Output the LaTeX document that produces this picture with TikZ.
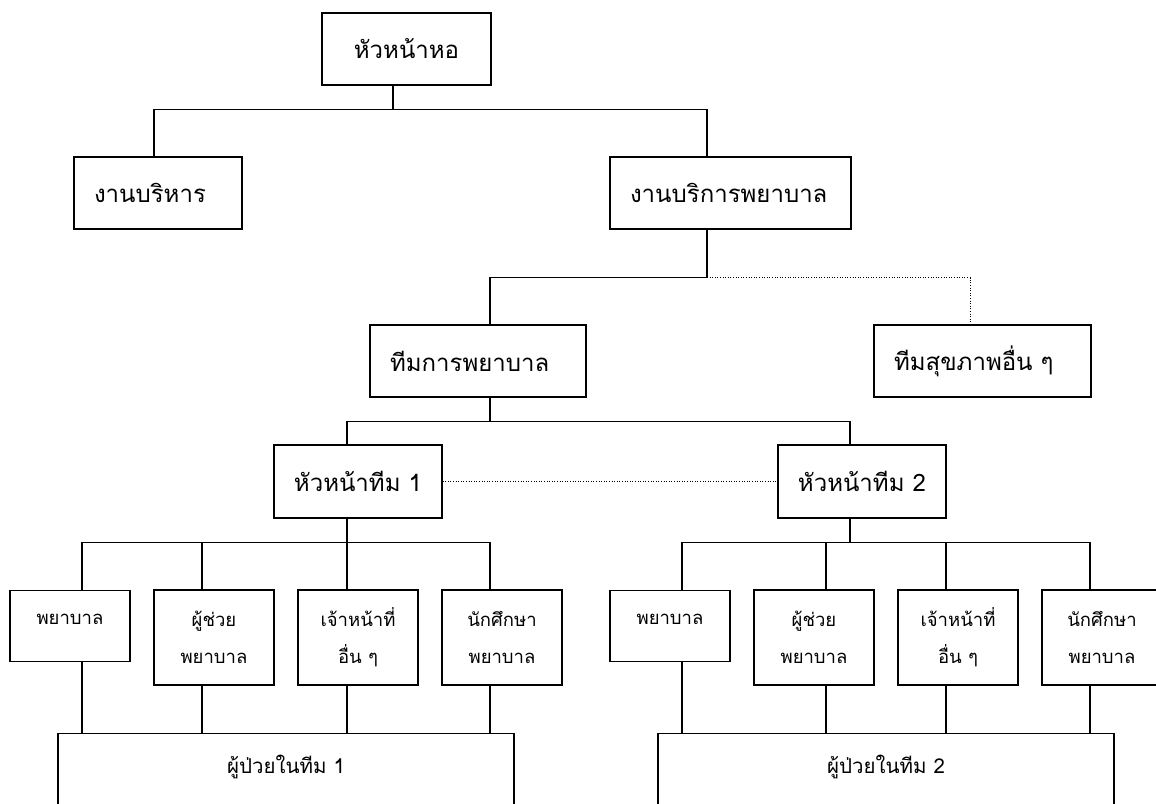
\documentclass[tikz,border=0pt]{standalone}
\usepackage{fontspec}
\newfontfamily\thaifont[Script=Thai]{Loma}
\begin{document}
\begin{tikzpicture}[x=1pt,y=-1pt,
  box/.style={draw, rectangle, line width=1.3pt, inner sep=0pt},
  bigbox/.style={box, minimum height=72pt, font=\thaifont\fontsize{24}{30}\selectfont},
  lbox/.style={bigbox, align=left, inner xsep=20pt, inner ysep=0pt},
  onebox/.style={box, anchor=north, minimum width=120pt, text height=34pt, text depth=37pt, inner ysep=0pt, font=\thaifont\fontsize{18.5}{37}\selectfont},
  twobox/.style={box, minimum width=120pt, minimum height=95pt, align=center, font=\thaifont\fontsize{18.5}{37}\selectfont},
  patbox/.style={box, anchor=north, minimum width=456pt, text height=40pt, text depth=80pt, inner ysep=0pt, font=\thaifont\fontsize{20.5}{25}\selectfont},
  conn/.style={line width=1.3pt},
  dotconn/.style={line width=1pt, dash pattern=on 1pt off 1.6pt}]
\clip (0,0) rectangle (1156,803);
\fill[white] (0,0) rectangle (1156,803);

% top levels
\node[bigbox, minimum width=169pt] (hh) at (406.5,49) {หัวหน้าหอ};
\node[lbox, text width=128pt] (adm) at (158,193) {งานบริหาร};
\node[lbox, text width=201pt] (svc) at (730.5,193) {งานบริการพยาบาล};
\node[lbox, text width=176pt] (nt) at (478,361) {ทีมการพยาบาล};
\node[lbox, text width=177pt] (oth) at (982.5,361) {ทีมสุขภาพอื่น ๆ};
\node[bigbox, minimum width=168pt, minimum height=73pt] (t1) at (358,481.5) {หัวหน้าทีม 1};
\node[bigbox, minimum width=168pt, minimum height=73pt] (t2) at (862,481.5) {หัวหน้าทีม 2};

% team 1 members
\node[onebox] (a1) at (70,590) {พยาบาล};
\node[twobox] (b1) at (214,637.5) {ผู้ช่วย\\พยาบาล};
\node[twobox] (c1) at (358,637.5) {เจ้าหน้าที่\\อื่น ๆ};
\node[twobox] (d1) at (502,637.5) {นักศึกษา\\พยาบาล};
% team 2 members
\node[onebox] (a2) at (670,590) {พยาบาล};
\node[twobox] (b2) at (814,637.5) {ผู้ช่วย\\พยาบาล};
\node[twobox] (c2) at (958,637.5) {เจ้าหน้าที่\\อื่น ๆ};
\node[twobox] (d2) at (1102,637.5) {นักศึกษา\\พยาบาล};

% patients
\node[patbox] (p1) at (286,733) {ผู้ป่วยในทีม 1};
\node[patbox] (p2) at (886,733) {ผู้ป่วยในทีม 2};

% connectors
\draw[conn] ([xshift=-13.5pt]hh.south) -- ++(0,24) -| ([xshift=-4pt]adm.north);
\draw[conn] ([xshift=-13.5pt]hh.south) -- ++(0,24) -| ([xshift=-23.5pt]svc.north);
\draw[conn] ([xshift=-23.5pt]svc.south) -- ++(0,48) -| ([xshift=12pt]nt.north);
\draw[dotconn] ([xshift=-23.5pt]svc.south) ++(0,48) -| ([xshift=-12.5pt]oth.north);
\draw[conn] ([xshift=12pt]nt.south) -- ++(0,24) -| ([xshift=-11pt]t1.north);
\draw[conn] ([xshift=12pt]nt.south) -- ++(0,24) -| ([xshift=-12pt]t2.north);
\draw[dotconn] (t1.east) -- (t2.west);

\foreach \n/\s in {a1/12,b1/-12,c1/-11,d1/-12}{
  \draw[conn] ([xshift=-11pt]t1.south) -- ++(0,24) -| ([xshift=\s pt]\n.north);
  \coordinate (\n x) at ([xshift=\s pt]\n.south);
  \draw[conn] (\n x) -- (\n x |- p1.north);
}
\foreach \n/\s in {a2/12,b2/12,c2/-12,d2/-12}{
  \draw[conn] ([xshift=-12pt]t2.south) -- ++(0,24) -| ([xshift=\s pt]\n.north);
  \coordinate (\n x) at ([xshift=\s pt]\n.south);
  \draw[conn] (\n x) -- (\n x |- p2.north);
}
\end{tikzpicture}
\end{document}
